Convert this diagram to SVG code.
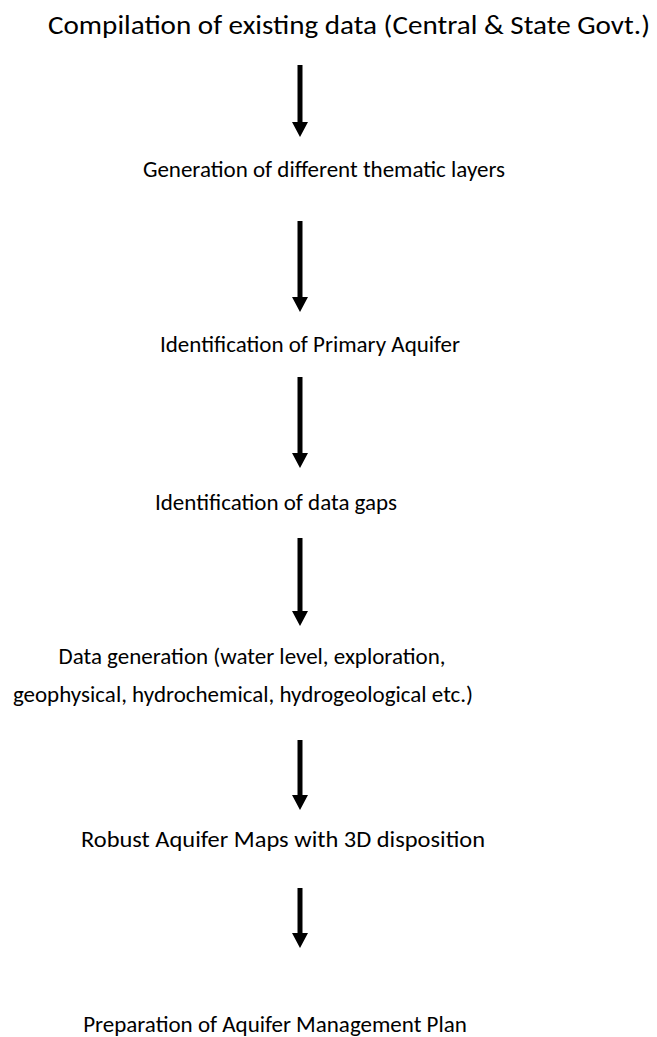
<svg xmlns="http://www.w3.org/2000/svg" width="657" height="1037" viewBox="0 0 657 1037">
<style>
.t{font-family:Carlito,Lato,"Open Sans",sans-serif;font-size:23px;fill:#000;text-anchor:middle}
.c line{stroke:#000;stroke-width:5}
</style>
<defs>
<marker id="ah" markerUnits="userSpaceOnUse" markerWidth="16" markerHeight="16" viewBox="0 0 15 16" refX="0" refY="8" orient="auto">
<path d="M0,0 L15,8 L0,16 Z" fill="#000"/>
</marker>
</defs>
<rect width="657" height="1037" fill="#fff"/>
<g id="n1"><text class="t" x="349" y="34" style="font-size:26px" textLength="602" lengthAdjust="spacingAndGlyphs">Compilation of existing data (Central &amp; State Govt.)</text></g>
<g id="n2"><text class="t" x="324" y="177">Generation of different thematic layers</text></g>
<g id="n3"><text class="t" x="310" y="352">Identification of Primary Aquifer</text></g>
<g id="n4"><text class="t" x="276" y="510">Identification of data gaps</text></g>
<g id="n5"><text class="t" x="252" y="664">Data generation (water level, exploration,</text><text class="t" x="243" y="702">geophysical, hydrochemical, hydrogeological etc.)</text></g>
<g id="n6"><text class="t" x="283" y="847" textLength="404" lengthAdjust="spacingAndGlyphs">Robust Aquifer Maps with 3D disposition</text></g>
<g id="n7"><text class="t" x="275" y="1032">Preparation of Aquifer Management Plan</text></g>
<g id="connectors" class="c">
<line x1="300" y1="65" x2="300" y2="122" marker-end="url(#ah)"/>
<line x1="300" y1="221" x2="300" y2="297" marker-end="url(#ah)"/>
<line x1="300" y1="377" x2="300" y2="453" marker-end="url(#ah)"/>
<line x1="300" y1="538" x2="300" y2="611" marker-end="url(#ah)"/>
<line x1="300" y1="740" x2="300" y2="795" marker-end="url(#ah)"/>
<line x1="300" y1="888" x2="300" y2="933" marker-end="url(#ah)"/>
</g>
</svg>
